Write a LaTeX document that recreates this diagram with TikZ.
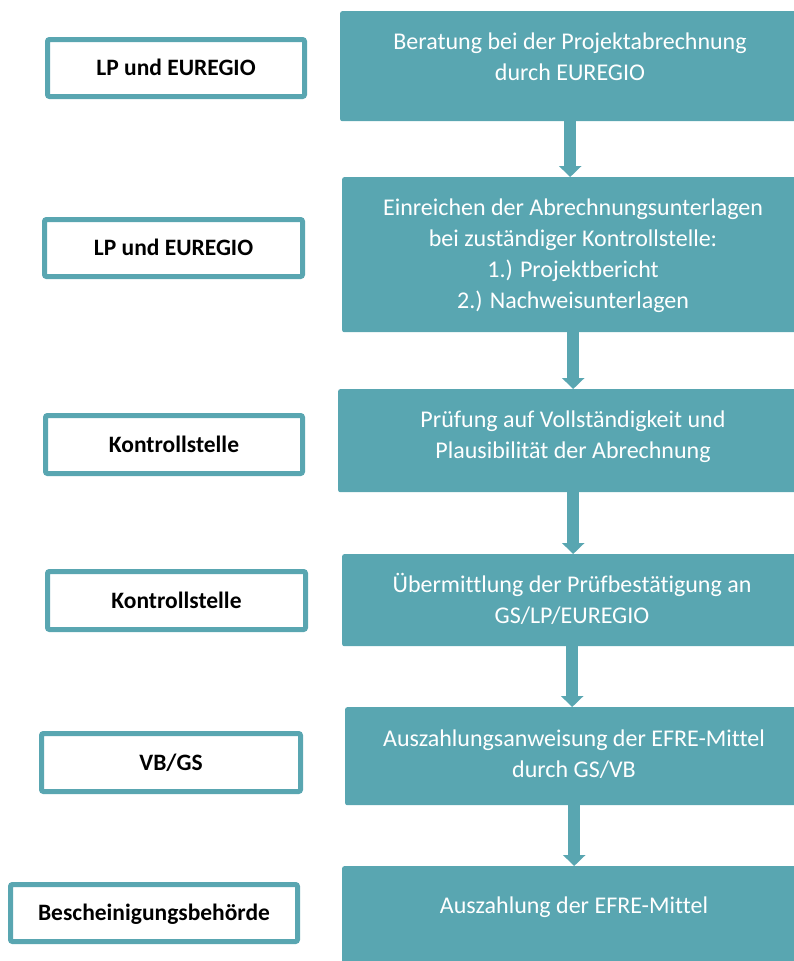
\documentclass[tikz,border=0pt]{standalone}
\usepackage{fontspec}
\setmainfont{Carlito}[Ligatures={NoCommon}]
\usetikzlibrary{arrows.meta}
\definecolor{tealc}{RGB}{89,166,177}
\begin{document}
\begin{tikzpicture}[x=1pt,y=-1pt,
  rbox/.style={fill=tealc, draw=none, rounded corners=2pt, inner sep=0pt, anchor=north west},
  rtext/.style={text=white, font=\fontsize{24}{31}\selectfont, align=center, inner sep=0pt, anchor=north},
  lbox/.style={draw=tealc, line width=5pt, fill=white, rounded corners=2pt, inner sep=0pt,
    font=\fontsize{23.5}{28}\selectfont\bfseries, text height=15pt, text depth=0pt},
  flow/.style={draw=tealc, line width=12pt, -{Triangle[width=22pt,length=11pt]}}]
\useasboundingbox (0,0) rectangle (793,961);
% right process boxes
\node[rbox, minimum width=460, minimum height=110] (r1) at (340,11) {};
\node[rbox, minimum width=462, minimum height=155] (r2) at (342,177) {};
\node[rbox, minimum width=470, minimum height=103] (r3) at (338,389) {};
\node[rbox, minimum width=460, minimum height=92] (r4) at (342,554) {};
\node[rbox, minimum width=458, minimum height=98] (r5) at (345,707) {};
\node[rbox, minimum width=464, minimum height=110] (r6) at (342,866) {};
% texts
\node[rtext] (t1) at (570,27.3) {\strut Beratung bei der Projektabrechnung\\durch EUREGIO};
\node[rtext] (t2) at (573,193.3) {\strut Einreichen der Abrechnungsunterlagen\\bei zuständiger Kontrollstelle:\\1.) Projektbericht\\2.) Nachweisunterlagen};
\node[rtext] (t3) at (573,405.3) {\strut Prüfung auf Vollständigkeit und\\Plausibilität der Abrechnung};
\node[rtext] (t4) at (572,570.3) {\strut Übermittlung der Prüfbestätigung an\\GS/LP/EUREGIO};
\node[rtext] (t5) at (574,724.3) {\strut Auszahlungsanweisung der EFRE-Mittel\\durch GS/VB};
\node[rtext] (t6) at (574,891.3) {\strut Auszahlung der EFRE-Mittel};
% left role boxes
\node[lbox, minimum width=257, minimum height=57] (l1) at (176,68) {LP und EUREGIO};
\node[lbox, minimum width=258, minimum height=57] (l2) at (173.5,248) {LP und EUREGIO};
\node[lbox, minimum width=257, minimum height=58] (l3) at (174,444.5) {Kontrollstelle};
\node[lbox, minimum width=258, minimum height=58] (l4) at (176.5,600.5) {Kontrollstelle};
\node[lbox, minimum width=259, minimum height=58] (l5) at (171,762.5) {VB/GS};
\node[lbox, minimum width=287, minimum height=57] (l6) at (154,913) {Bescheinigungsbehörde};
% arrows
\draw[flow] (r1.south) -- (r1.south |- r2.north);
\draw[flow] (r2.south) -- (r2.south |- r3.north);
\draw[flow] (r3.south) -- (r3.south |- r4.north);
\draw[flow] (r4.south) -- (r4.south |- r5.north);
\draw[flow] (r5.south) -- (r5.south |- r6.north);
\end{tikzpicture}
\end{document}
